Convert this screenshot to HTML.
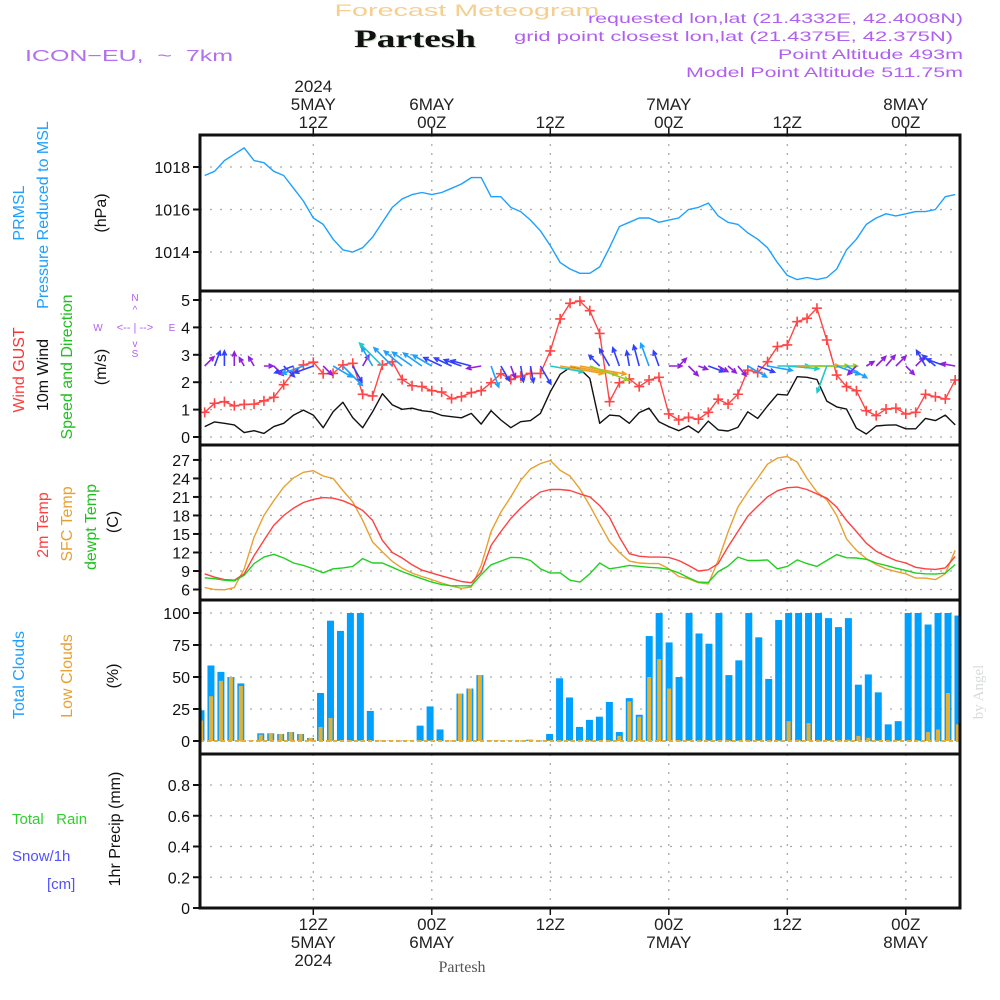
<!DOCTYPE html>
<html><head><meta charset="utf-8"><style>
html,body{margin:0;padding:0;background:#fff;}
svg{display:block;font-family:"Liberation Sans",sans-serif;}
.pre{white-space:pre;}
</style></head><body>
<svg id="chart" width="1000" height="1000" viewBox="0 0 1000 1000" xmlns="http://www.w3.org/2000/svg">
<rect x="0" y="0" width="1000" height="1000" fill="#fff"/>
<g id="grid"></g><g id="marks"></g><g id="frames"></g><g id="labels"></g>
<text x="467" y="16" font-size="17" fill="#f5cf8f" text-anchor="middle" textLength="265" lengthAdjust="spacingAndGlyphs">Forecast Meteogram</text>
<text x="416" y="48" font-size="25" font-weight="bold" font-family="Liberation Serif, serif" fill="#c8dcc8" text-anchor="middle" textLength="122" lengthAdjust="spacingAndGlyphs">Partesh</text>
<text x="415" y="47" font-size="25" font-weight="bold" font-family="Liberation Serif, serif" fill="#111" text-anchor="middle" textLength="122" lengthAdjust="spacingAndGlyphs">Partesh</text>
<text x="25" y="61" font-size="16" fill="#b070f0" textLength="208" lengthAdjust="spacingAndGlyphs" class="pre">ICON−EU,  ~  7km</text>
<g font-size="14" fill="#b060f0" text-anchor="end">
<text x="963" y="23" textLength="375" lengthAdjust="spacingAndGlyphs">requested lon,lat (21.4332E, 42.4008N)</text>
<text x="953" y="41" textLength="439" lengthAdjust="spacingAndGlyphs">grid point closest lon,lat (21.4375E, 42.375N)</text>
<text x="963" y="59" textLength="185" lengthAdjust="spacingAndGlyphs">Point Altitude 493m</text>
<text x="963" y="77" textLength="277" lengthAdjust="spacingAndGlyphs">Model Point Altitude 511.75m</text>
</g>
<text x="462" y="972" font-size="16" font-family="Liberation Serif, serif" fill="#555" text-anchor="middle">Partesh</text>
<text transform="translate(983,692) rotate(-90)" font-size="15" font-family="Liberation Serif, serif" fill="#d8dcd8" text-anchor="middle">by Angel</text>
</svg>
<script>
// ---------- data ----------
const hours = []; for (let t = 1; t <= 77; t++) hours.push(t);
const pressure = [1017.6,1017.8,1018.3,1018.6,1018.9,1018.3,1018.2,1017.8,1017.6,1017.0,1016.4,1015.6,1015.3,1014.6,1014.1,1014.0,1014.2,1014.7,1015.4,1016.1,1016.5,1016.7,1016.8,1016.7,1016.8,1017.0,1017.2,1017.5,1017.5,1016.6,1016.6,1016.1,1015.9,1015.5,1015.0,1014.3,1013.5,1013.2,1013.0,1013.0,1013.3,1014.2,1015.2,1015.4,1015.6,1015.6,1015.4,1015.5,1015.6,1016.0,1016.1,1016.3,1015.7,1015.4,1015.3,1014.9,1014.6,1014.2,1013.5,1012.9,1012.7,1012.8,1012.7,1012.8,1013.2,1014.1,1014.6,1015.3,1015.6,1015.8,1015.7,1015.8,1015.9,1015.9,1016.0,1016.6,1016.7];
const wind10m = [0.38,0.55,0.5,0.44,0.16,0.23,0.13,0.38,0.5,0.8,0.98,0.8,0.34,0.92,1.27,0.7,0.34,0.92,1.58,1.17,1.01,1.05,0.96,0.92,0.79,0.74,0.7,0.86,0.47,0.96,0.62,0.34,0.56,0.6,0.86,1.65,2.29,2.54,2.48,2.14,0.5,0.8,0.77,0.5,0.89,1.05,0.56,0.38,0.23,0.4,0.16,0.58,0.26,0.22,0.35,0.92,0.68,1.13,1.56,1.53,2.2,2.18,2.1,1.31,1.1,1.02,0.32,0.11,0.4,0.43,0.44,0.3,0.3,0.68,0.6,0.8,0.44];
const gust = [0.9,1.23,1.29,1.14,1.19,1.2,1.32,1.45,1.91,2.38,2.63,2.73,2.31,2.32,2.63,2.69,1.56,1.5,2.63,2.75,2.1,1.87,1.84,1.69,1.64,1.4,1.47,1.62,1.69,1.98,2.31,2.1,2.22,2.32,2.32,3.14,4.31,4.88,4.96,4.61,3.78,1.29,1.98,2.12,1.84,2.08,2.18,0.84,0.62,0.72,0.65,0.9,1.38,1.2,1.56,2.44,2.35,2.75,3.3,3.36,4.21,4.33,4.7,3.54,2.26,1.84,1.69,0.96,0.78,1.02,1.05,0.84,0.9,1.56,1.47,1.39,2.08];
const windDir = [45,20,0,0,330,330,90,135,135,250,250,250,135,120,135,150,30,330,315,315,310,305,305,300,295,295,290,285,260,160,150,160,170,170,150,100,100,100,100,110,315,330,340,350,345,340,340,90,45,135,110,110,120,130,140,120,110,100,90,95,90,90,90,200,110,120,225,60,45,40,45,135,45,330,310,290,280];
const temp2m = [8.55,8.0,7.6,7.5,8.55,11.5,13.95,16.4,18.0,19.2,20.1,20.6,20.9,20.8,20.4,19.7,18.8,17.2,13.95,12.0,11.1,10.0,9.15,8.65,8.2,7.75,7.3,7.1,8.8,13.15,15.4,17.5,19.2,20.6,21.8,22.2,22.2,22.05,21.5,21.0,19.6,17.7,14.5,11.8,11.4,11.25,11.25,11.2,10.7,9.9,9.0,9.2,10.2,12.9,15.4,17.9,19.5,21.0,22.0,22.5,22.6,22.2,21.5,20.8,19.35,17.2,15.4,13.5,12.2,11.4,10.7,10.3,9.6,9.35,9.25,9.5,11.35];
const tempSfc = [6.3,6.0,5.95,6.3,9.35,14.5,18.0,20.4,22.6,24.1,25.0,25.25,24.4,24.0,22.05,20.2,17.2,13.7,12.1,10.55,9.45,8.65,8.1,7.6,7.05,6.55,6.2,6.4,9.9,15.4,18.55,21.0,23.7,25.55,26.4,26.9,25.3,24.4,22.3,19.6,16.65,13.8,12.0,10.6,10.3,10.2,10.2,9.35,8.1,7.75,7.1,6.9,10.7,15.3,19.35,21.8,24.05,26.3,27.3,27.55,26.65,24.0,21.8,20.55,18.0,14.2,12.35,11.0,10.05,9.35,8.9,8.55,7.85,7.85,7.6,8.55,12.35];
const dewpt = [7.9,7.75,7.5,7.4,8.3,10.2,11.25,11.7,11.1,10.3,9.9,9.35,8.7,9.35,9.5,9.75,11.0,10.3,10.3,9.6,8.9,8.3,7.75,7.2,6.8,6.6,6.6,6.6,8.4,10.0,10.6,11.2,11.15,10.7,9.35,8.65,8.7,7.5,7.2,8.55,10.3,9.35,9.6,9.9,9.75,9.6,9.5,9.25,8.7,7.9,7.2,7.15,8.9,9.8,11.25,10.7,10.7,10.8,9.35,9.75,10.8,10.2,9.75,10.7,11.65,11.15,11.1,10.9,10.3,9.9,9.45,9.1,8.65,8.55,8.5,8.65,10.05];
const totalClouds = [24,59,54,50,45,0.3,6,6,5.5,7,5.5,2.4,37.5,94,86,100,100,23.5,0.3,0.3,0.3,0.3,12,27,9,0.3,37,41,51.5,0.3,0.3,0.3,0.3,1,0.3,5.5,49,34,11,16.5,19,30.5,7,33.5,20.5,82,100,77,50,100,84,76,100,51.5,63,100,81,48.5,94.5,100,100,100,100,96,89,96,44,52,38,13,15.5,100,100,91,100,100,98];
const lowClouds = [16,35,47,50,43,0.3,5,6,5.5,7,5.5,2.4,11,18,0.5,0.5,0.5,0.5,0.3,0.3,0.3,0.3,0.5,0.5,0.5,0.3,37,41,51.5,0.3,0.3,0.3,0.3,1,0.3,0.5,0.5,0.5,0.5,0.5,0.5,0.5,4,31,19,50,64,41,0.5,0.5,0.5,0.5,0.5,0.5,0.5,0.5,0.5,0.5,0.5,15.5,1,14,0.5,0.5,0.5,1,4,2.5,0.5,0.5,0.5,0.5,0.5,7,9,37.5,13];
const precip = new Array(77).fill(0);
const timeTicks = [12,24,36,48,60,72];
const topTickLabels = [["2024","5MAY","12Z"],["","6MAY","00Z"],["","","12Z"],["","7MAY","00Z"],["","","12Z"],["","8MAY","00Z"]];
const bottomTickLabels = [["12Z","5MAY","2024"],["00Z","6MAY",""],["12Z","",""],["00Z","7MAY",""],["12Z","",""],["00Z","8MAY",""]];
const pressTicks = [1014,1016,1018];
const windTicks = [0,1,2,3,4,5];
const tempTicks = [6,9,12,15,18,21,24,27];
const cloudTicks = [0,25,50,75,100];
const precipTicks = [0,0.2,0.4,0.6,0.8];
const precipTickLabels = ["0","0.2","0.4","0.6","0.8"];

// ---------- axes ----------
const X0 = 200, X1 = 960;
const xOf = t => 313.3 + (t - 12) * 9.875;
const barX = k => 201 + k * 9.96;
const yPress = v => 167 + (1018 - v) * 21.25;
const yWind = v => 437 - v * 27.4;
const yTemp = v => 589.5 - (v - 6) * 6.17;
const yCloud = v => 741 - v * 1.28;
const yPrecip = v => 908 - v * 153.75;
const panels = [[135,291],[291,445],[445,600],[600,754],[754,908]];

const NS = "http://www.w3.org/2000/svg";
function mk(tag, attrs, parent){ const e = document.createElementNS(NS, tag); for (const k in attrs) e.setAttribute(k, attrs[k]); if (parent) parent.appendChild(e); return e; }
const G = document.getElementById('grid'), M = document.getElementById('marks'), F = document.getElementById('frames'), L = document.getElementById('labels');
const svg = document.getElementById('chart');
const defs = mk('defs', {}, svg);
const cp = mk('clipPath', {id:'plotclip'}, defs);
mk('rect', {x:X0, y:135, width:X1-X0, height:773}, cp);
M.setAttribute('clip-path','url(#plotclip)');

// grid
const gridSpecs = [[pressTicks,yPress,0],[windTicks,yWind,1],[tempTicks,yTemp,2],[cloudTicks,yCloud,3],[precipTicks,yPrecip,4]];
gridSpecs.forEach(([ticks, f, pi]) => {
  ticks.forEach((v, i) => {
    const y = f(v);
    const gl = mk('line', {x1:X0, x2:X1, y1:y, y2:y, stroke:'#aaa', 'stroke-width':1.3, 'stroke-dasharray':'2,8'}, G);
    
    
    mk('line', {x1:X0-7, x2:X0, y1:y, y2:y, stroke:'#111', 'stroke-width':2}, F);
    const lbl = pi === 4 ? precipTickLabels[i] : String(v);
    const tx = mk('text', {x:X0-10, y:y+6, 'font-size':16, fill:'#111', 'text-anchor':'end'}, L);
    tx.textContent = lbl;
    
    
  });
});
timeTicks.forEach((t, i) => {
  const x = xOf(t);
  panels.forEach(([a, b]) => {
    const vl = mk('line', {x1:x, x2:x, y1:a, y2:b, stroke:'#aaa', 'stroke-width':1.3, 'stroke-dasharray':'2,7'}, G);
    
    
  });
  mk('line', {x1:x, x2:x, y1:128, y2:135, stroke:'#111', 'stroke-width':1.5}, F);
  mk('line', {x1:x, x2:x, y1:908, y2:915, stroke:'#111', 'stroke-width':1.5}, F);
  topTickLabels[i].forEach((s, j) => {
    if (!s) return;
    const tx = mk('text', {x:x, y:92 + j*18, 'font-size':17, fill:'#222', 'text-anchor':'middle'}, L);
    tx.textContent = s;
    
    
  });
  bottomTickLabels[i].forEach((s, j) => {
    if (!s) return;
    const tx = mk('text', {x:x, y:930 + j*18, 'font-size':17, fill:'#222', 'text-anchor':'middle'}, L);
    tx.textContent = s;
    
    
  });
});

// frames
panels.forEach(([a, b], i) => {
  const r = mk('rect', {x:X0, y:a, width:X1-X0, height:b-a, fill:'none', stroke:'#111', 'stroke-width':3}, F);
  
  
});

function polyline(vals, f, color, name, w){
  const pts = vals.map((v, i) => xOf(hours[i]).toFixed(1) + ',' + f(v).toFixed(1)).join(' ');
  const p = mk('polyline', {points:pts, fill:'none', stroke:color, 'stroke-width':w || 1.4, 'stroke-linejoin':'round'}, M);
  
  
  return p;
}

// pressure
polyline(pressure, yPress, '#1ea0ff', 'pressure-line');

// clouds
totalClouds.forEach((v, k) => {
  const x = barX(k);
  const b = mk('rect', {x:x-3.5, y:yCloud(v), width:7, height:741-yCloud(v), fill:'#00a0ff'}, M);
  
  
});
lowClouds.forEach((v, k) => {
  const x = barX(k);
  const b = mk('rect', {x:x-2, y:yCloud(v), width:4, height:741-yCloud(v), fill:'#e8b030'}, M);
  
  
});
mk('line', {x1:X0, x2:X1, y1:741, y2:741, stroke:'#e8b030', 'stroke-width':2, 'stroke-dasharray':'4,3'}, M);

// precip zero line
const pl = polyline(precip, yPrecip, '#222', 'precip-line', 2);
pl.setAttribute('stroke-dasharray', '6,3');

// temps
polyline(tempSfc, yTemp, '#e8a030', 'sfc-temp-line');
polyline(temp2m, yTemp, '#ff4040', '2m-temp-line');
polyline(dewpt, yTemp, '#20d020', 'dewpoint-line');

// wind
polyline(wind10m, yWind, '#111', 'wind-10m-line');
polyline(gust, yWind, '#ff4545', 'wind-gust-line');
gust.forEach((v, i) => {
  const x = xOf(hours[i]), y = yWind(v);
  const g = mk('path', {d:`M${x-5} ${y}H${x+5}M${x} ${y-5}V${y+5}`, stroke:'#ff4545', 'stroke-width':1.6, fill:'none'}, M);
  
  
});
function windColor(s){
  if (s < 0.5) return '#9020e0';
  if (s < 0.9) return '#3040ff';
  if (s < 1.3) return '#1ea0ff';
  if (s < 1.8) return '#20c8c8';
  if (s < 2.2) return '#90d020';
  return '#f0a020';
}
windDir.forEach((d, i) => {
  const x = xOf(hours[i]), y = 366;
  const s = wind10m[i];
  const len = 7 + s * 16;
  const a = d * Math.PI / 180;
  const ex = x + len * Math.sin(a), ey = y - len * Math.cos(a);
  const h = 5, b1 = a + Math.PI - 0.45, b2 = a + Math.PI + 0.45;
  const d1 = `M${x.toFixed(1)} ${y}L${ex.toFixed(1)} ${ey.toFixed(1)}M${(ex+h*Math.sin(b1)).toFixed(1)} ${(ey-h*Math.cos(b1)).toFixed(1)}L${ex.toFixed(1)} ${ey.toFixed(1)}L${(ex+h*Math.sin(b2)).toFixed(1)} ${(ey-h*Math.cos(b2)).toFixed(1)}`;
  const w = mk('path', {d:d1, stroke:windColor(s), 'stroke-width':1.6, fill:'none'}, M);
  
  
});

// axis titles
function vtext(x, y, str, color, size, name){
  const t = mk('text', {transform:`translate(${x},${y}) rotate(-90)`, 'font-size':size||16, fill:color, 'text-anchor':'middle'}, L);
  t.textContent = str;
  
  
  return t;
}
vtext(24, 213, 'PRMSL', '#1ea0ff', 16, 'prmsl-title');
vtext(48, 215, 'Pressure Reduced to MSL', '#1ea0ff', 16, 'pressure-title');
vtext(106, 213, '(hPa)', '#111', 16, 'pressure-unit');
const wg = vtext(24, 370, '', '#ff4040', 16, 'wind-gust-title');
wg.innerHTML = '<tspan fill="#ff4040">Wind </tspan><tspan fill="#ff3030">GUST</tspan>';
vtext(48, 375, '10m Wind', '#111', 16, 'wind-10m-title');
vtext(72, 367, 'Speed and Direction', '#20c020', 16, 'wind-speed-direction-title');
vtext(106, 367, '(m/s)', '#111', 16, 'wind-unit');
vtext(48, 525, '2m Temp', '#ff4040', 16, 'temp-2m-title');
vtext(72, 524, 'SFC Temp', '#e8a030', 16, 'sfc-temp-title');
vtext(96, 527, 'dewpt Temp', '#20c020', 16, 'dewpt-title');
vtext(118, 522, '(C)', '#111', 16, 'temp-unit');
vtext(24, 675, 'Total Clouds', '#1ea0ff', 16, 'total-clouds-title');
vtext(72, 676, 'Low Clouds', '#e8a030', 16, 'low-clouds-title');
vtext(118, 676, '(%)', '#111', 16, 'cloud-unit');
vtext(120, 829, '1hr Precip (mm)', '#111', 16, 'precip-title');
[['Total   Rain',12,824,'#30d030','rain-legend'],['Snow/1h',12,861,'#5050ff','snow-legend'],['[cm]',47,889,'#5050ff','snow-unit']].forEach(([s,x,y,c,n]) => {
  const t = mk('text', {x:x, y:y, 'font-size':15, fill:c, 'class':'pre'}, L);
  t.textContent = s;
  
  
});
// compass
[['N',135,301],['S',135,357],['W',98,331],['E',172,331],['<-- | -->',135,331],['^',135,313],['v',135,347]].forEach(([s,x,y]) => {
  const t = mk('text', {x:x, y:y, 'font-size':s.length>2?11:10, fill:'#b060f0', 'text-anchor':'middle', 'class':'pre'}, L);
  t.textContent = s;
  
  
});
</script>
</body></html>
